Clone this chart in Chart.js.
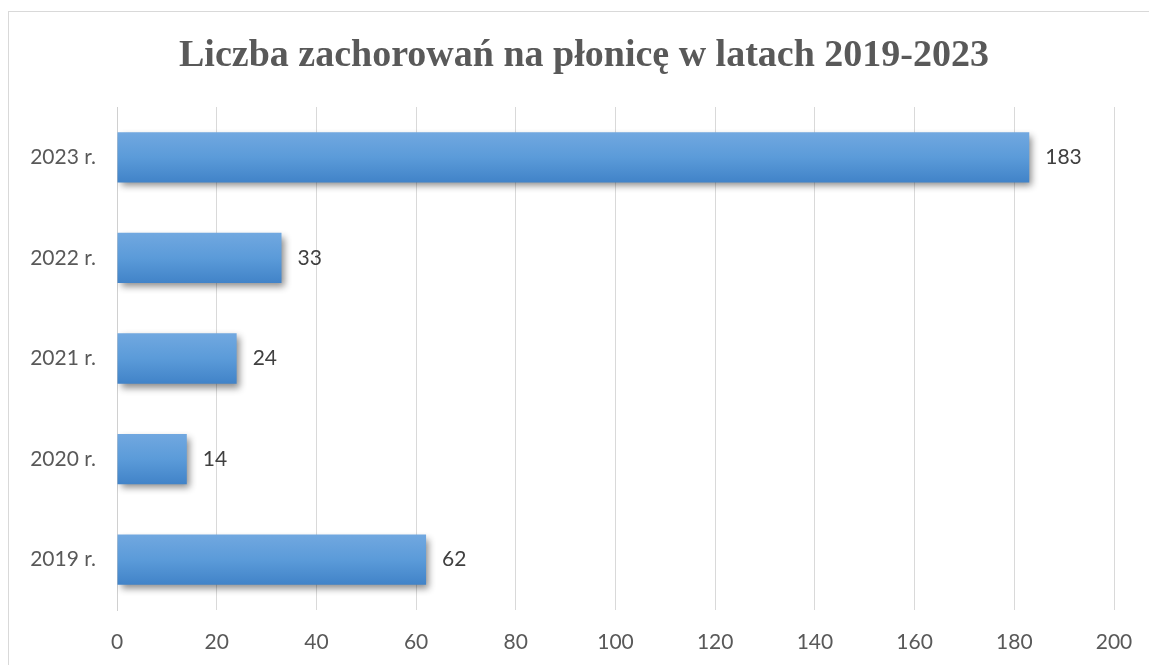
<!DOCTYPE html>
<html>
<head>
<meta charset="utf-8">
<script src="https://cdn.jsdelivr.net/npm/chart.js@4.4.1/dist/chart.umd.min.js"></script>
<style>
  html, body { margin: 0; padding: 0; background: #fff; overflow: hidden; }
  #frame { position: absolute; left: 8px; top: 11px; width: 1400px; height: 900px; border: 1px solid #d9d9d9; box-sizing: border-box; }
  #wrap { position: absolute; left: 0; top: 0; width: 1149px; height: 665px; }
</style>
</head>
<body>
<div id="frame"></div>
<div id="wrap"><canvas id="c" width="1149" height="665"></canvas></div>
<script>
const titleText = 'Liczba zachorowań na płonicę w latach 2019-2023';
const categories = ['2023 r.', '2022 r.', '2021 r.', '2020 r.', '2019 r.'];
const values = [183, 33, 24, 14, 62];
const xTicks = [0, 20, 40, 60, 80, 100, 120, 140, 160, 180, 200];

const barPct = 0.5;

function barGradient(context) {
  const chart = context.chart;
  const ys = chart.scales && chart.scales.y;
  if (!ys || context.dataIndex === undefined || !isFinite(ys.getPixelForValue(0))) return '#5b9bd5';
  const center = ys.getPixelForValue(context.dataIndex);
  const cat = ys.height / categories.length;
  const h = cat * barPct;
  const g = chart.ctx.createLinearGradient(0, center - h / 2, 0, center + h / 2);
  g.addColorStop(0, '#71a8e0');
  g.addColorStop(0.5, '#5b9bd9');
  g.addColorStop(1, '#4183c8');
  return g;
}

const shadowPlugin = {
  id: 'shadow',
  beforeDatasetsDraw(chart) {
    const ctx = chart.ctx;
    ctx.save();
    ctx.shadowColor = 'rgba(0,0,0,0.45)';
    ctx.shadowBlur = 7;
    ctx.shadowOffsetX = 3;
    ctx.shadowOffsetY = 4;
  },
  afterDatasetsDraw(chart) {
    const ctx = chart.ctx;
    ctx.restore();
    const meta = chart.getDatasetMeta(0);
    ctx.save();
    ctx.font = '21px Lato';
    ctx.fillStyle = '#404040';
    ctx.textBaseline = 'middle';
    ctx.textAlign = 'left';
    meta.data.forEach((bar, i) => {
      ctx.fillText(String(values[i]), bar.x + 16, bar.y);
    });
    ctx.restore();
  }
};

new Chart(document.getElementById('c'), {
  type: 'bar',
  data: {
    labels: categories,
    datasets: [{
      data: values,
      backgroundColor: barGradient,
      borderWidth: 0,
      barPercentage: barPct,
      categoryPercentage: 1
    }]
  },
  plugins: [shadowPlugin],
  options: {
    indexAxis: 'y',
    responsive: false,
    animation: false,
    events: [],
    layout: { padding: { left: 19, right: 0, top: 0, bottom: 0 } },
    plugins: {
      legend: { display: false },
      tooltip: { enabled: false },
      title: {
        display: true,
        text: titleText,
        color: '#595959',
        font: { family: '"Liberation Serif", "Times New Roman", serif', size: 38, weight: 'bold', lineHeight: 1.2 },
        padding: { top: 33.5, bottom: 27.9 }
      }
    },
    scales: {
      x: {
        min: 0,
        max: 200,
        afterBuildTicks(scale) { scale.ticks = xTicks.map(v => ({ value: v })); },
        afterFit(scale) { scale.height = 55; scale.paddingRight = 35; },
        grid: { color: '#d9d9d9', drawTicks: false, lineWidth: 1 },
        border: { display: false },
        ticks: { color: '#595959', font: { family: 'Lato', size: 21 }, padding: 20, maxRotation: 0 }
      },
      y: {
        afterFit(scale) { scale.width = 98; },
        grid: { display: false, drawTicks: false },
        border: { display: true, color: '#d0d0d0', width: 1 },
        ticks: { color: '#595959', font: { family: 'Lato', size: 21 }, padding: 21 }
      }
    }
  }
});
</script>
</body>
</html>
